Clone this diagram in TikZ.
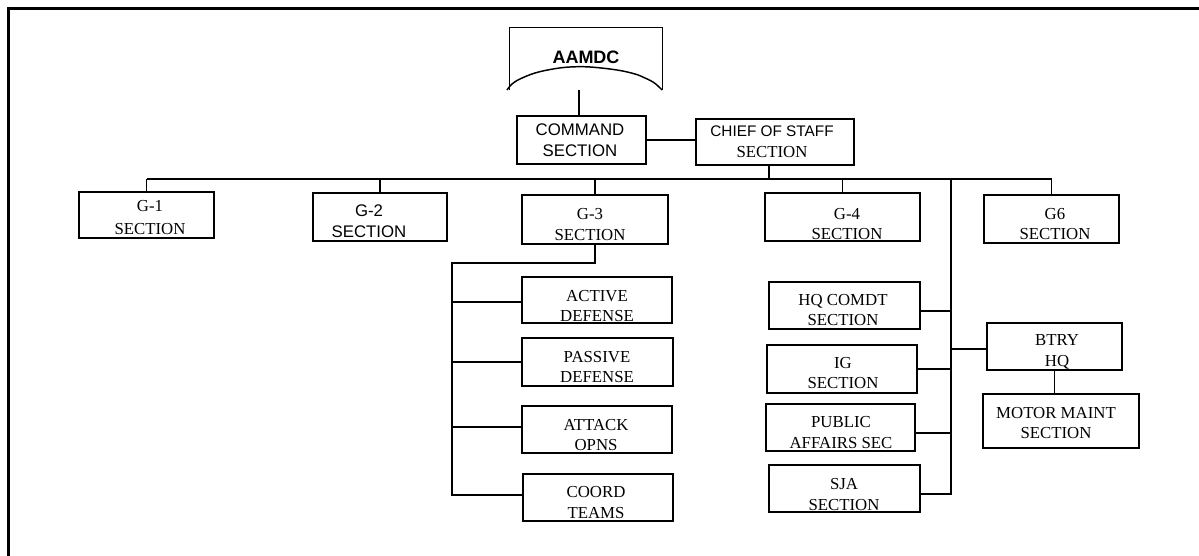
\documentclass[tikz,border=0pt]{standalone}
\usepackage{fontspec}
\setmainfont{Liberation Serif}
\setsansfont{Liberation Sans}
\usetikzlibrary{fit}
\begin{document}
\begin{tikzpicture}[x=0.75pt,y=-0.75pt,
  box/.style={draw, line width=1.1pt, inner sep=0pt},
  area/.style={inner sep=0pt},
  link/.style={line width=1.1pt},
  lbl/.style={inner sep=0pt, align=center, font=\fontsize{12.6}{15.5}\selectfont},
  lbls/.style={inner sep=0pt, align=center, font=\sffamily\fontsize{12.6}{15.5}\selectfont}]
\useasboundingbox (0,0) rectangle (1199,556);

% page frame
\draw[line width=1.9pt] (8.3,556) -- (8.3,8.3) -- (1199,8.3);

% headquarters symbol
\node[area, fit={(510,28) (662,90)}] (aamdc) {};
\draw[link] (aamdc.south west) -- (aamdc.north west) -- (aamdc.north east) -- (aamdc.south east);
\draw[link] plot[smooth, tension=0.6] coordinates {(507,90) (512,84) (520,79) (535,73) (553,69) (570,67) (590,67) (617,70) (635,74) (645,78) (653,82) (658,86) (662,90)};
\node[lbls, font=\sffamily\bfseries\fontsize{13.5}{15.5}\selectfont] (t-aamdc) at (586,57) {AAMDC};

% command group
\node[box, fit={(517,116) (646,164)}] (cmd) {};
\node[lbls] (t-cmd) at (580,140) {COMMAND\\SECTION};
\node[box, fit={(696,119) (854,165)}] (chief) {};
\node[lbl] (t-chief) at (772,142) {{\sffamily\fontsize{11.5}{15.5}\selectfont CHIEF OF STAFF}\\SECTION};

% staff sections
\node[box, fit={(79,192) (214,238)}] (g1) {};
\node[lbl] (t-g1) at (150,217.5) {G-1\\[2pt]SECTION};
\node[box, fit={(313,193) (447,241)}] (g2) {};
\node[lbls] (t-g2) at (369,221) {G-2\\SECTION};
\node[box, fit={(522,195) (668,244)}] (g3) {};
\node[lbl] (t-g3) at (590,224.5) {G-3\\SECTION};
\node[box, fit={(765,193) (920,241)}] (g4) {};
\node[lbl] (t-g4) at (847,224) {G-4\\SECTION};
\node[box, fit={(984,195) (1119,243)}] (g6) {};
\node[lbl] (t-g6) at (1055,224) {G6\\SECTION};

% G-3 cells
\node[box, fit={(522,277) (672,323)}] (active) {};
\node[lbl] (t-active) at (597,306) {ACTIVE\\DEFENSE};
\node[box, fit={(522,338) (673,386)}] (passive) {};
\node[lbl] (t-passive) at (597,367) {PASSIVE\\DEFENSE};
\node[box, fit={(522,406) (672,453)}] (attack) {};
\node[lbl] (t-attack) at (596,435) {ATTACK\\OPNS};
\node[box, fit={(523,474) (673,521)}] (coord) {};
\node[lbl] (t-coord) at (596,502.5) {COORD\\TEAMS};

% special staff
\node[box, fit={(769,282) (920,329)}] (hq) {};
\node[lbl] (t-hq) at (843,310) {HQ COMDT\\SECTION};
\node[box, fit={(767,345) (917,393)}] (ig) {};
\node[lbl] (t-ig) at (843,373) {IG\\SECTION};
\node[box, fit={(766,404) (915,451)}] (pub) {};
\node[lbl] (t-pub) at (841,432.5) {PUBLIC\\AFFAIRS SEC};
\node[box, fit={(769,465) (920,512)}] (sja) {};
\node[lbl] (t-sja) at (844,494.5) {SJA\\SECTION};

% battery
\node[box, fit={(987,323) (1122,370)}] (btry) {};
\node[lbl] (t-btry) at (1057,352) {BTRY\\HQ};
\node[box, fit={(983,394) (1139,448)}] (motor) {};
\node[lbl] (t-motor) at (1056,423) {MOTOR MAINT\\SECTION};

% connectors: top
\coordinate (adrop) at ([xshift=-5.25pt]aamdc.south);
\draw[link] (adrop) -- (adrop |- cmd.north);
\draw[link] (cmd.east) -- (cmd.east -| chief.west);

% staff bus
\coordinate (busy) at (0,179);
\coordinate (busL) at (g1.north |- busy);
\coordinate (busR) at (g6.north |- busy);
\draw[link] (busL) -- (busR);
\coordinate (cdrop) at ([xshift=-4.5pt]chief.south);
\draw[link] (cdrop) -- (cdrop |- busy);
\foreach \n in {g1,g2,g3,g4,g6}
  \draw[link] (\n.north) -- (\n.north |- busy);

% G-3 spine
\coordinate (ltop) at (452,263);
\coordinate (active-b) at ([yshift=-1.5pt]active.west);
\coordinate (passive-b) at (passive.west);
\coordinate (attack-b) at ([yshift=1.9pt]attack.west);
\coordinate (coord-b) at ([yshift=1.9pt]coord.west);
\draw[link] (g3.south) |- (ltop) -- (ltop |- coord-b) -- (coord-b);
\foreach \n in {active,passive,attack}
  \draw[link] (\n-b) -- (\n-b -| ltop);

% special staff spine
\coordinate (rtop) at (951,179);
\coordinate (rbot) at (951,495);
\draw[link] (rtop) -- (rbot);
\foreach \n in {hq,pub,sja} {
  \coordinate (\n-b) at ([yshift=-4.1pt]\n.east);
  \draw[link] (\n-b) -- (\n-b -| rtop);
}
\draw[link] (ig.east) -- (ig.east -| rtop);
\coordinate (btry-b) at ([yshift=-1.9pt]btry.west);
\draw[link] (btry-b) -- (btry-b -| rtop);
\draw[link] (btry.south) -- (btry.south |- motor.north);
\end{tikzpicture}
\end{document}
